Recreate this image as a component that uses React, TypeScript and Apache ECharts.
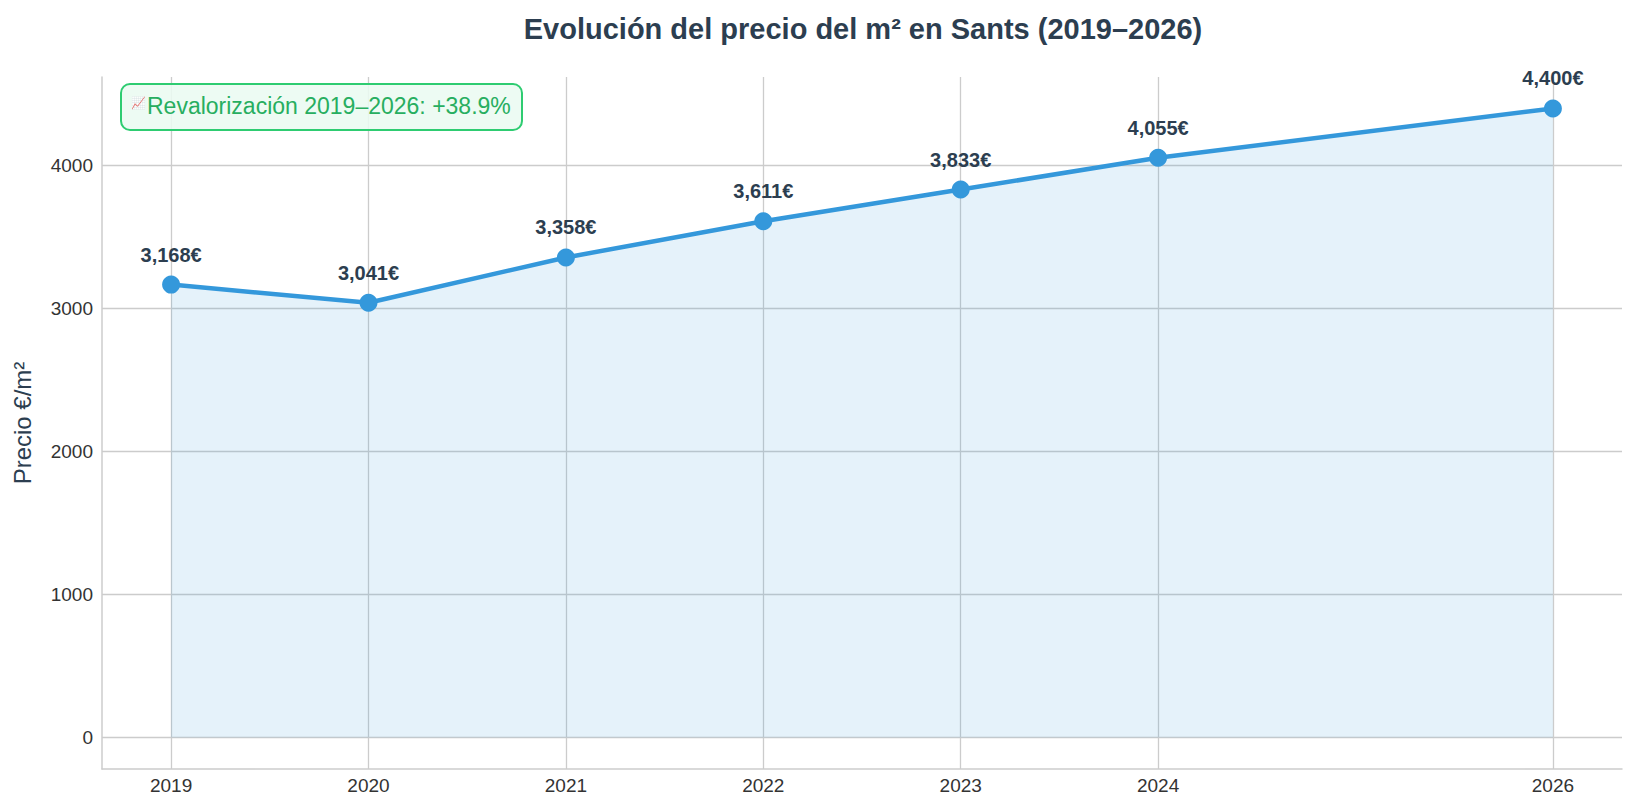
import React, { useEffect, useRef } from "react";
import * as echarts from "echarts";

const years = [2019, 2020, 2021, 2022, 2023, 2024, 2026];
const prices = [3168, 3041, 3358, 3611, 3833, 4055, 4400];
const xTicks = [2019, 2020, 2021, 2022, 2023, 2024, 2026];
const yTicks = [0, 1000, 2000, 3000, 4000];
const titleText = "Evolución del precio del m² en Sants (2019–2026)";
const yAxisName = "Precio €/m²";
const annotationIcon = "📈";
const annotationText = "Revalorización 2019–2026: +38.9%";

const FONT = "'Liberation Sans', Arial, sans-serif";

export default function App() {
  const ref = useRef<HTMLDivElement>(null);
  useEffect(() => {
    document.body.style.margin = "0";
    const chart = echarts.init(ref.current!, null, { renderer: "svg" });
    const data = years.map((y, i) => [y, prices[i]]);
    chart.setOption({
      animation: false,
      backgroundColor: "#ffffff",
      textStyle: { fontFamily: FONT },
      title: {
        text: titleText,
        left: 858,
        top: 9,
        textAlign: "center",
        textStyle: { fontFamily: FONT, fontSize: 29, fontWeight: "bold", color: "#2c3e50" },
      },
      grid: { left: 102, right: 14, top: 77, bottom: 41, containLabel: false },
      xAxis: {
        type: "value",
        min: 2018.65,
        max: 2026.35,
        axisLine: { show: true, onZero: false, lineStyle: { color: "#cccccc", width: 1.5 } },
        axisTick: { show: false, customValues: xTicks },
        axisLabel: {
          customValues: xTicks,
          formatter: (v: number) => String(v),
          color: "#333333",
          fontSize: 19,
          fontFamily: FONT,
          margin: 7,
        },
        splitLine: { show: true, lineStyle: { color: "#cccccc", width: 1.3 } },
      },
      yAxis: {
        type: "value",
        min: -220,
        max: 4620,
        name: yAxisName,
        nameLocation: "middle",
        nameGap: 68,
        nameTextStyle: { color: "#2c3e50", fontSize: 24, fontFamily: FONT },
        axisLine: { show: true, onZero: false, lineStyle: { color: "#cccccc", width: 1.5 } },
        axisTick: { show: false, customValues: yTicks },
        axisLabel: {
          customValues: yTicks,
          formatter: (v: number) => String(v),
          color: "#333333",
          fontSize: 19,
          fontFamily: FONT,
          margin: 9,
        },
        splitLine: { show: true, lineStyle: { color: "#cccccc", width: 1.3 } },
      },
      series: [
        {
          type: "line",
          data,
          symbol: "circle",
          symbolSize: 18,
          lineStyle: { color: "#3498db", width: 4.5 },
          itemStyle: { color: "#3498db" },
          areaStyle: { color: "#3498db", opacity: 0.13, origin: "auto" },
          label: {
            show: true,
            position: "top",
            distance: 11,
            formatter: (p: any) => p.value[1].toLocaleString("en-US") + "€",
            fontFamily: FONT,
            fontSize: 20,
            fontWeight: "bold",
            color: "#2c3e50",
          },
          z: 3,
        },
      ],
      graphic: [
        {
          type: "rect",
          left: 120,
          top: 83,
          shape: { width: 401, height: 46, r: 9 },
          style: { fill: "rgba(234,250,241,0.88)", stroke: "#2ecc71", lineWidth: 2 },
          z: 100,
        },
        {
          type: "text",
          left: 131,
          top: 97,
          style: {
            text: annotationIcon,
            fontFamily: FONT,
            fontSize: 12,
            fill: "#27ae60",
            opacity: 0.8,
          },
          z: 101,
        },
        {
          type: "text",
          left: 147,
          top: 94,
          style: {
            text: annotationText,
            fontFamily: FONT,
            fontSize: 23,
            fill: "#27ae60",
          },
          z: 101,
        },
      ],
    });
    return () => chart.dispose();
  }, []);
  return <div ref={ref} style={{ width: 1636, height: 810 }} />;
}
